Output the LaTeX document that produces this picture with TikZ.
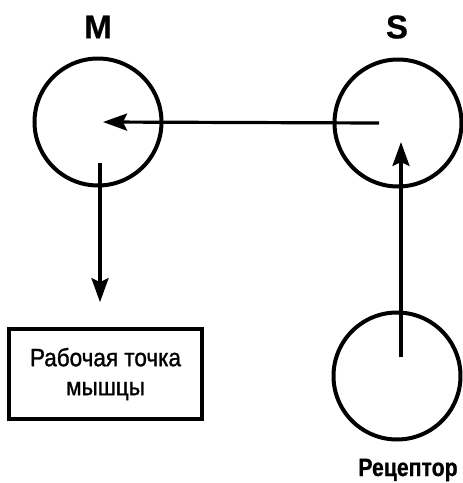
\documentclass[tikz,border=0pt]{standalone}
\usepackage{fontspec}
\setmainfont{Liberation Sans}
\newfontfamily\narrowfont[FakeStretch=0.9,FakeBold=1.2]{Liberation Sans}
\newfontfamily\narrowbold[FakeStretch=0.85,FakeBold=0.8]{Liberation Sans Bold}
\newfontfamily\labelfont[FakeBold=0.6]{Liberation Sans Bold}
\usetikzlibrary{arrows.meta}
\begin{document}
\begin{tikzpicture}[x=1pt,y=-1pt,
  neuron/.style={circle,draw,line width=4pt,minimum size=127pt,inner sep=0pt},
  lbl/.style={font=\labelfont\fontsize{33}{33}\selectfont,inner sep=0pt},
  arr/.style={line width=3.2pt,-{Stealth[length=24pt,width=17pt,inset=4pt]}},
  boxst/.style={draw,line width=3.6pt,minimum width=193pt,minimum height=90pt,inner sep=0pt,align=center,
    font=\narrowfont\fontsize{25}{29}\selectfont}]
\useasboundingbox (0,0) rectangle (463,483);
\node[neuron] (M) at (98,122) {};
\node[neuron] (S) at (398,123) {};
\node[neuron] (R) at (397,376) {};
\node[lbl] (lM) at (98,27) {M};
\node[lbl] (lS) at (397,27) {S};
\node[inner sep=0pt,font=\narrowbold\fontsize{25}{25}\selectfont] (lR) at (408,470) {Рецептор};
\node[boxst] (B) at (105.5,374) {Рабочая точка\\мышцы};
\draw[arr] ([xshift=-19pt]S.center) -- ([xshift=5pt]M.center);
\draw[arr] ([xshift=4pt,yshift=19pt]R.center) -- ([xshift=3pt,yshift=-19pt]S.center);
\draw[arr] ([xshift=2pt,yshift=-41pt]M.center) -- ([xshift=-5.5pt,yshift=25pt]B.north);
\end{tikzpicture}
\end{document}
